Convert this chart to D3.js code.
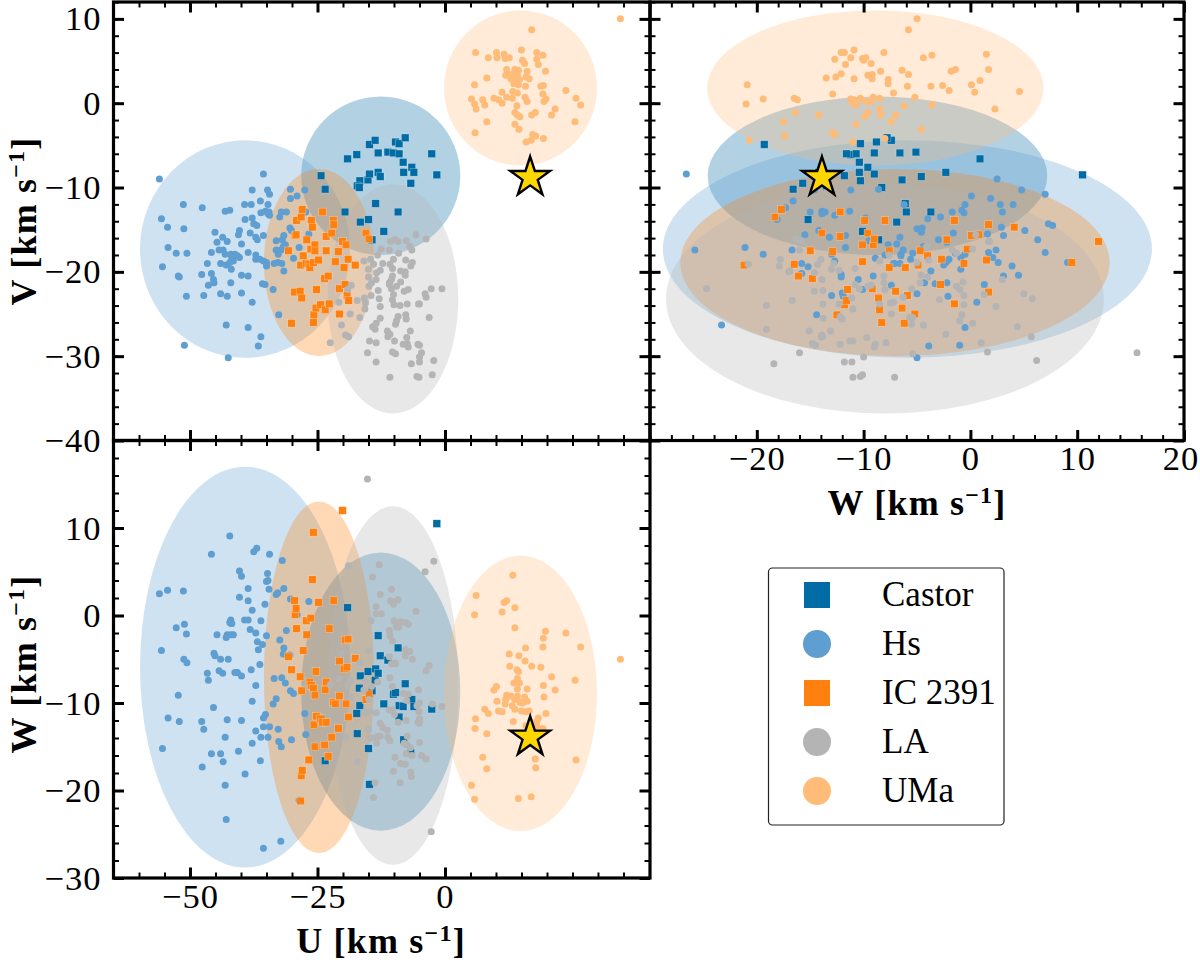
<!DOCTYPE html>
<html>
<head>
<meta charset="utf-8">
<script src="https://cdn.jsdelivr.net/npm/d3@7"></script>
<style>
  html, body { margin: 0; padding: 0; background: #fff; }
  text { font-family: "Liberation Serif", serif; fill: #000; }
</style>
</head>
<body>
<div id="vis"></div>
<script>
// Moving group members, each row is [U, V, W] in km/s
const castor = [
  [-24.3,-8.6,-11.8],[-23.5,-10.2,-16.6],[-19.6,-12.9,-6.0],[-19.1,-6.6,0.9],[-17.3,-6.1,-11.2],
  [-16.6,-14.1,-6.9],[-15.0,-13.8,-15.2],[-14.8,-4.9,-19.3],[-13.7,-4.4,-7.4],[-13.6,-11.9,-6.1],
  [-13.1,-5.9,-6.6],[-15.1,-9.1,-6.4],[-14.8,-8.4,-9.0],[-16.7,-9.2,-10.3],[-17.2,-9.8,-13.5],
  [-16.8,-10.0,-8.3],[-13.1,-8.2,-2.3],[-12.7,-8.7,-4.6],[-14.3,-16.2,-8.6],[-12.0,-15.2,-10.1],
  [-11.2,-5.8,-5.1],[-10.1,-5.9,-9.0],[-9.7,-4.6,-8.8],[-9.0,-4.8,-10.3],[-9.0,-6.0,-11.6],
  [-7.8,-4.1,-7.8],[-9.2,-12.9,-3.7],[-8.2,-7.0,-10.4],[-8.1,-8.2,-14.2],[-6.7,-9.5,-15.7],
  [-6.5,-7.6,-9.6],[-6.1,-8.2,-10.4],[-2.6,-6.0,-10.7],[-1.6,-8.5,10.5]
];
const hs = [
  [-56.0,-9.0,2.5],[-55.6,-13.7,-4.0],[-55.4,-19.4,-15.2],[-54.4,-14.7,2.9],[-54.3,-17.1,-11.7],
  [-52.7,-17.8,-1.4],[-52.3,-20.5,-9.1],[-52.1,-20.6,-12.1],[-51.3,-12.0,2.8],[-51.2,-14.9,-5.0],
  [-51.1,-28.7,-1.0],[-50.7,-22.9,-2.1],[-50.6,-17.8,-5.4],[-47.7,-20.3,-12.1],[-47.6,-12.4,-17.3],
  [-47.3,-22.8,-13.0],[-46.6,-19.0,-6.6],[-46.4,-21.6,-7.4],[-45.8,-17.7,7.0],[-45.8,-20.2,-15.8],
  [-45.4,-20.9,-10.5],[-45.3,-21.3,-4.3],[-45.1,-15.3,-4.6],[-44.7,-16.5,-2.2],[-44.3,-17.4,-6.3],
  [-44.0,-19.0,-15.8],[-44.0,-22.6,-5.0],[-43.6,-15.9,-6.6],[-43.5,-17.4,-16.7],[-43.1,-12.8,-13.9],
  [-42.9,-26.3,-23.3],[-43.1,-17.9,-19.4],[-42.7,-22.9,-11.9],[-42.7,-16.4,-2.2],[-42.9,-19.2,-2.5],
  [-42.5,-30.2,-5.0],[-42.2,-12.7,-0.8],[-42.2,-18.9,9.1],[-42.0,-17.9,-0.5],[-41.9,-19.7,-0.9],
  [-42.0,-21.3,-2.2],[-41.8,-18.3,-0.9],[-41.5,-18.7,-2.2],[-41.2,-17.9,-6.5],[-40.5,-15.6,-15.5],
  [-40.3,-15.1,5.1],[-40.7,-18.1,-6.5],[-40.3,-18.3,2.1],[-39.9,-20.4,4.5],[-39.9,-16.7,-6.9],
  [-39.9,-22.5,-12.0],[-39.3,-12.0,-0.5],[-39.2,-13.8,-18.1],[-38.6,-20.5,3.1],[-38.6,-26.6,-0.5],
  [-38.6,-17.7,1.7],[-38.2,-15.4,-1.6],[-38.0,-12.0,-6.2],[-37.8,-13.6,-9.8],[-37.8,-10.3,-14.6],
  [-37.8,-23.6,0.6],[-37.5,-14.3,7.3],[-36.9,-14.5,7.7],[-37.1,-18.0,-8.0],[-37.1,-15.9,-13.2],
  [-36.8,-16.2,-3.0],[-36.6,-28.8,-3.9],[-36.2,-11.6,-16.6],[-36.1,-27.7,-13.9],[-37.1,-18.5,-2.0],
  [-36.3,-18.5,-5.6],[-35.6,-8.4,-26.6],[-35.6,-15.7,-11.7],[-35.8,-21.4,-3.3],[-35.3,-21.5,1.3],
  [-35.6,-18.7,-12.7],[-36.1,-13.0,-0.6],[-35.2,-12.8,-11.3],[-34.8,-10.3,4.8],[-34.4,-10.8,7.0],
  [-34.7,-12.0,4.0],[-34.5,-12.9,3.0],[-34.4,-13.3,-12.7],[-35.0,-18.9,-2.3],[-35.0,-19.3,3.9],
  [-34.7,-13.1,-13.9],[-33.7,-22.1,-10.1],[-33.5,-19.0,-7.2],[-33.1,-16.3,-9.5],[-32.8,-18.9,2.6],
  [-32.6,-25.1,-14.4],[-33.1,-17.4,2.4],[-32.7,-17.9,-13.0],[-32.4,-13.5,-2.8],[-32.1,-12.9,-15.0],
  [-32.0,-19.0,-7.1],[-31.6,-19.9,-3.7],[-31.1,-12.9,-1.7],[-31.9,-16.2,6.3],[-31.6,-15.7,3.1],
  [-32.2,-17.4,-25.8],[-31.7,-17.0,-4.4],[-31.3,-16.8,-7.7],[-30.3,-10.2,-8.6],[-30.3,-11.3,1.9],
  [-30.4,-14.8,-4.5],[-30.1,-15.1,-14.2],[-29.7,-18.4,-8.9],[-29.0,-11.0,0.1],[-28.6,-17.1,-21.1],
  [-27.5,-10.3,-11.2],[-27.3,-12.9,-13.6],[-26.7,-15.5,1.6]
];
const ic2391 = [
  [-30.7,-17.5,-4.7],[-30.1,-26.1,-6.2],[-29.5,-22.4,1.7],[-29.4,-15.7,0.1],[-29.2,-15.6,0.8],
  [-29.1,-13.9,-1.5],[-28.4,-22.3,-7.0],[-28.3,-19.2,-21.2],[-28.2,-13.5,-18.3],[-28.1,-23.1,-8.6],
  [-28.0,-12.6,-17.7],[-27.8,-18.1,-4.0],[-27.2,-19.0,-0.6],[-27.1,-16.2,-2.2],[-26.7,-19.1,-16.5],
  [-26.5,-19.5,-7.6],[-26.3,-17.3,-0.3],[-26.2,-13.9,-8.0],[-26.0,-14.7,4.1],[-25.8,-18.9,9.5],
  [-25.7,-25.1,-12.5],[-25.8,-26.0,-8.3],[-25.5,-16.8,-9.1],[-25.5,-17.5,-15.0],[-25.3,-24.3,-6.4],
  [-25.2,-22.1,-11.5],[-24.8,-18.6,1.5],[-24.4,-23.9,-11.8],[-24.0,-12.9,-12.2],[-23.5,-24.5,-8.5],
  [-23.3,-15.8,-12.2],[-23.3,-17.5,-7.6],[-23.6,-20.8,-14.8],[-22.9,-20.5,-16.1],[-22.7,-23.8,-1.5],
  [-22.2,-15.4,-13.9],[-21.9,-13.9,-9.9],[-21.8,-14.4,1.7],[-21.5,-18.8,-10.1],[-20.9,-17.6,-12.9],
  [-20.7,-25.0,-5.2],[-20.7,-22.0,-9.2],[-20.1,-16.4,12.0],[-19.8,-19.5,-6.1],[-19.6,-21.5,-2.8],
  [-19.4,-16.8,-10.1],[-19.2,-22.8,-5.9],[-19.0,-18.5,-2.7],[-18.9,-23.4,-11.6],[-17.6,-19.2,-4.9],
  [-15.5,-15.4,-9.6],[-14.9,-16.1,-9.0]
];
const la = [
  [-22.5,-28.4,-7.9],[-20.8,-23.6,-7.2],[-20.3,-26.3,-4.4],[-19.5,-27.5,-13.9],[-18.9,-27.7,5.7],
  [-19.1,-22.1,-8.0],[-18.4,-21.6,-9.3],[-18.6,-25.0,-7.4],[-17.2,-23.4,-16.7],[-16.7,-25.4,-5.4],
  [-15.8,-23.1,-11.1],[-15.6,-23.7,-7.5],[-15.7,-24.4,-11.0],[-15.2,-29.6,15.6],[-15.9,-18.7,-8.5],
  [-15.0,-19.7,-13.0],[-15.0,-20.6,-4.0],[-14.8,-28.2,-11.0],[-14.6,-18.5,-14.0],[-14.5,-22.8,-0.6],
  [-14.4,-21.3,-8.1],[-14.9,-21.7,-9.6],[-14.2,-26.5,4.4],[-14.0,-19.1,-20.8],[-13.7,-26.8,-19.1],
  [-13.5,-26.1,0.2],[-13.5,-20.9,-13.9],[-13.5,-28.4,1.0],[-13.5,-30.7,-11.1],[-13.4,-20.1,-14.6],
  [-13.2,-18.0,-7.6],[-13.1,-22.2,-13.8],[-12.9,-23.2,5.8],[-12.7,-25.5,-13.8],[-12.7,-19.8,-12.3],
  [-12.7,-24.1,2.4],[-12.5,-17.3,0.2],[-12.2,-19.0,-12.8],[-11.3,-27.0,-13.1],[-11.2,-27.7,-13.9],
  [-10.9,-17.4,-1.7],[-10.9,-21.5,-10.8],[-10.9,-21.3,-4.7],[-10.8,-27.4,-2.3],[-10.8,-32.5,-7.1],
  [-10.8,-19.1,-14.3],[-10.7,-16.4,1.7],[-10.5,-22.0,-5.5],[-10.5,-20.9,3.0],[-10.3,-19.6,-10.8],
  [-10.3,-23.3,-2.9],[-10.3,-29.5,1.6],[-10.3,-20.5,-8.1],[-10.1,-22.7,1.3],[-10.1,-18.5,-17.8],
  [-10.0,-23.9,-0.6],[-9.9,-28.2,-11.3],[-9.8,-16.2,-16.2],[-9.7,-29.7,-5.4],[-9.7,-26.2,-5.5],
  [-9.5,-21.7,-1.3],[-9.5,-25.8,-1.0],[-9.2,-25.3,-12.2],[-9.2,-16.4,1.8],[-9.1,-17.8,-1.3],
  [-8.8,-24.0,-19.1],[-8.7,-21.2,-0.7],[-8.7,-19.9,-16.9],[-8.2,-28.6,-8.9],[-8.0,-22.3,-14.6],
  [-7.8,-20.0,-17.0],[-7.8,-20.4,-4.6],[-7.7,-25.1,-0.8],[-7.7,-18.6,-3.9],[-7.6,-25.6,-12.0],
  [-7.6,-16.3,-15.8],[-7.5,-27.8,-9.7],[-7.4,-23.8,-13.8],[-7.4,-28.5,-14.8],[-7.2,-22.1,-1.0],
  [-7.2,-28.9,-9.0],[-6.9,-17.0,-4.1],[-6.8,-27.0,-15.1],[-6.7,-19.3,-17.9],[-6.6,-30.9,-18.4],
  [-6.5,-17.4,-16.0],[-6.4,-18.9,-5.0],[-5.7,-15.6,0.5],[-5.5,-32.4,-10.3],[-5.3,-28.6,-12.2],
  [-5.2,-23.8,-8.5],[-5.1,-32.5,-11.0],[-5.0,-23.8,-12.3],[-5.0,-28.7,-14.5],[-5.0,-30.1,-10.0],
  [-5.0,-30.7,-11.8],[-4.6,-29.6,-16.0],[-3.9,-22.6,5.0],[-3.7,-23.0,-6.3],[-3.7,-16.1,-16.4],
  [-3.1,-25.4,-5.7],[-2.7,-22.0,-24.7],[-2.5,-32.2,-10.1],[-2.2,-30.5,6.2],[-0.6,-22.0,-10.4]
];
const uma = [
  [34.4,10.0,-5.0],[5.2,0.5,-19.4],[5.8,2.2,0.1],[5.8,-0.1,-21.0],[5.9,-3.5,-12.9],
  [6.0,6.0,-11.8],[6.1,-0.7,2.3],[7.4,0.4,-16.2],[7.8,-0.2,-10.7],[8.2,3.0,-13.5],
  [8.2,-2.2,-17.5],[8.5,5.4,-11.2],[9.6,0.6,-8.5],[10.1,6.0,-8.1],[10.2,5.4,-9.8],
  [10.5,0.4,-10.9],[11.2,1.3,0.4],[11.2,0.0,-11.0],[11.6,5.8,1.5],[11.8,5.3,-10.1],
  [11.9,3.3,-9.6],[12.1,4.0,1.7],[12.1,0.7,-9.1],[12.6,5.4,-4.4],[12.7,3.4,-5.8],
  [12.9,2.9,-9.2],[13.2,0.6,-10.3],[13.3,1.4,4.6],[13.4,3.5,-12.1],[13.5,2.3,-7.7],
  [13.7,4.0,-1.4],[13.7,2.7,0.9],[13.7,-1.1,-9.6],[13.7,-2.5,-10.7],[14.1,-0.3,-6.2],
  [14.2,3.4,-9.2],[14.2,1.2,-7.2],[14.2,-1.4,-8.4],[14.4,3.9,-6.4],[14.4,2.2,-20.9],
  [14.5,-3.1,-4.6],[14.6,2.8,-7.7],[14.7,-1.6,-9.9],[15.0,6.3,-10.9],[15.2,5.1,-10.0],
  [15.6,4.7,-9.3],[15.7,0.7,-5.2],[15.8,2.0,-3.7],[15.9,3.1,-12.6],[15.9,-4.6,-11.0],
  [16.1,3.8,-8.4],[16.1,0.2,-9.8],[16.5,2.9,-10.9],[16.9,-4.4,-20.7],[17.0,8.7,-5.8],
  [17.0,-1.4,-14.2],[17.2,-3.7,-12.7],[17.7,-1.1,-16.4],[17.8,-3.9,-17.4],[18.0,6.0,-12.1],
  [18.0,5.2,-12.7],[18.3,4.6,-11.7],[18.8,2.0,-5.9],[19.2,1.1,-12.9],[19.2,5.7,-3.6],
  [19.3,2.1,-2.6],[19.3,-4.2,-8.0],[19.4,0.2,-9.3],[19.7,3.8,-1.8],[19.8,0.5,-11.2],
  [20.9,-1.4,-7.0],[21.6,-0.7,-8.5],[23.7,1.5,-2.0],[25.5,-2.2,-7.4],[25.7,0.6,-16.5],
  [26.6,-0.2,-3.6]
];
const star = [16.7, -8.8, -13.9];

const groupNames = ["Castor", "Hs", "IC 2391", "LA", "UMa"];
const groupPoints = [castor, hs, ic2391, la, uma];
const groupColors = ["#006BA4", "#5F9ED1", "#FF800E", "#B4B4B4", "#FFBC79"];
const groupShapes = ["square", "circle", "square", "circle", "circle"];
// ellipse centres and half widths for U, V, W
const groupCenters = [[-12.6,-8.6,-8.7],[-39.2,-17.3,-5.9],[-24.7,-18.9,-7.06],[-10.2,-23.2,-8.0],[14.8,1.8,-8.9]];
const groupRadii = [[15.6,9.4,15.9],[20.6,12.9,22.9],[10.8,11.1,20.1],[12.8,13.6,20.5],[15.0,9.2,15.75]];

const WIDTH = 1200;
const HEIGHT = 962;
const LEFT = 113.5, MID_X = 650, RIGHT = 1184;
const TOP = 2, MID_Y = 440.5, BOTTOM = 878;

const xU = d3.scaleLinear().domain([-65, 40.2]).range([LEFT, MID_X]);
const yV = d3.scaleLinear().domain([-40, 12]).range([MID_Y, TOP]);
const xW = d3.scaleLinear().domain([-30, 20]).range([MID_X, RIGHT]);
const yW = d3.scaleLinear().domain([-30, 20]).range([BOTTOM, MID_Y]);

const uMajor = [-50, -25, 0];
const uMinor = d3.range(-60, 40, 5);
const vMajor = [10, 0, -10, -20, -30, -40];
const wMajorX = [-20, -10, 0, 10, 20];
const wMajorY = [10, 0, -10, -20, -30];
const minor2 = (lo, hi) => d3.range(lo, hi + 0.1, 2);

const svg = d3.select("#vis").append("svg")
  .attr("width", WIDTH)
  .attr("height", HEIGHT)
  .style("display", "block");

// the three panels, a and b are the columns of the rows above
const panels = [
  {x: xU, y: yV, a: 0, b: 1, xMajor: uMajor, xMinor: uMinor, yMajor: vMajor, yMinor: minor2(-40, 12), xLabels: false, yLabels: true, id: "uv"},
  {x: xW, y: yV, a: 2, b: 1, xMajor: wMajorX, xMinor: minor2(-30, 20), yMajor: vMajor, yMinor: minor2(-40, 12), xLabels: true, yLabels: false, id: "wv"},
  {x: xU, y: yW, a: 0, b: 2, xMajor: uMajor, xMinor: uMinor, yMajor: wMajorY, yMinor: minor2(-30, 20), xLabels: true, yLabels: true, id: "uw"}
];

panels.forEach(p => {
  const [x0, x1] = p.x.range();
  const [y0, y1] = p.y.range();
  const g = svg.append("g");

  svg.append("defs").append("clipPath").attr("id", "clip-" + p.id)
    .append("rect").attr("x", x0).attr("y", y1).attr("width", x1 - x0).attr("height", y0 - y1);

  const inner = g.append("g").attr("clip-path", "url(#clip-" + p.id + ")");

  // shaded ellipses first
  groupNames.forEach((name, i) => {
    inner.append("ellipse")
      .attr("cx", p.x(groupCenters[i][p.a]))
      .attr("cy", p.y(groupCenters[i][p.b]))
      .attr("rx", Math.abs(p.x(groupCenters[i][p.a] + groupRadii[i][p.a]) - p.x(groupCenters[i][p.a])))
      .attr("ry", Math.abs(p.y(groupCenters[i][p.b] + groupRadii[i][p.b]) - p.y(groupCenters[i][p.b])))
      .attr("fill", groupColors[i])
      .attr("fill-opacity", 0.3);
  });

  // then the stars of each group
  groupNames.forEach((name, i) => {
    if (groupShapes[i] == "square") {
      inner.selectAll(null).data(groupPoints[i]).enter().append("rect")
        .attr("x", d => p.x(d[p.a]) - 3.8)
        .attr("y", d => p.y(d[p.b]) - 3.8)
        .attr("width", 7.6)
        .attr("height", 7.6)
        .attr("fill", groupColors[i])
        .attr("stroke", "#fff")
        .attr("stroke-opacity", 0.5)
        .attr("stroke-width", 0.5);
    } else {
      inner.selectAll(null).data(groupPoints[i]).enter().append("circle")
        .attr("cx", d => p.x(d[p.a]))
        .attr("cy", d => p.y(d[p.b]))
        .attr("r", 3.5)
        .attr("fill", groupColors[i]);
    }
  });

  inner.append("path")
    .attr("d", d3.symbol(d3.symbolStar, 490))
    .attr("transform", "translate(" + p.x(star[p.a]) + "," + p.y(star[p.b]) + ")")
    .attr("fill", "#FFD700")
    .attr("stroke", "#000")
    .attr("stroke-width", 2.4)
    .attr("stroke-linejoin", "miter");

  // ticks point inwards on all four sides
  const drawAxis = (maker, scale, at, values, size, labels, padding) => {
    const axis = maker(scale).tickValues(values).tickSize(-size).tickPadding(padding);
    axis.tickFormat(labels ? d => String(d).replace("-", "\u2212") : "");
    const a = g.append("g").attr("transform", at).call(axis);
    a.select(".domain").remove();
    a.selectAll("line").attr("stroke", "#000").attr("stroke-width", size > 6 ? 3 : 2);
    a.selectAll("text").style("font-size", "34.5px").style("letter-spacing", "1px").attr("fill", "#000");
    return a;
  };
  drawAxis(d3.axisBottom, p.x, "translate(0," + y0 + ")", p.xMinor, 5.5, false, 6);
  drawAxis(d3.axisTop, p.x, "translate(0," + y1 + ")", p.xMinor, 5.5, false, 6);
  drawAxis(d3.axisLeft, p.y, "translate(" + x0 + ",0)", p.yMinor, 5.5, false, 6);
  drawAxis(d3.axisRight, p.y, "translate(" + x1 + ",0)", p.yMinor, 5.5, false, 6);
  const bottomAxis = drawAxis(d3.axisBottom, p.x, "translate(0," + y0 + ")", p.xMajor, 10.5, p.xLabels, 5);
  drawAxis(d3.axisTop, p.x, "translate(0," + y1 + ")", p.xMajor, 10.5, false, 6);
  drawAxis(d3.axisLeft, p.y, "translate(" + x0 + ",0)", p.yMajor, 10.5, p.yLabels, 12);
  drawAxis(d3.axisRight, p.y, "translate(" + x1 + ",0)", p.yMajor, 10.5, false, 6);

  // the 20 at the far right sits on the page edge, pull it in a little
  bottomAxis.selectAll("text").filter(d => d == 20).attr("dx", -3.5);

  g.append("rect")
    .attr("x", x0).attr("y", y1)
    .attr("width", x1 - x0).attr("height", y0 - y1)
    .attr("fill", "none").attr("stroke", "#000").attr("stroke-width", 3.2);
});

// axis titles with a raised -1
function axisTitle(letter, px, py, rotate) {
  const t = svg.append("text")
    .attr("text-anchor", "middle")
    .attr("transform", "translate(" + px + "," + py + ")" + (rotate ? " rotate(-90)" : ""))
    .style("font-size", "36px")
    .style("font-weight", "bold")
    .style("letter-spacing", "1.2px");
  t.append("tspan").text(letter + " [km s");
  t.append("tspan").attr("dy", -12).style("font-size", "24px").text("\u22121");
  t.append("tspan").attr("dy", 12).text("]");
}
axisTitle("V", 36, 221, true);
axisTitle("W", 36, 664, true);
axisTitle("W", 917, 515, false);
axisTitle("U", 381, 953, false);

// legend
const legendX = 768.5, legendY = 568, legendW = 235.5, legendH = 257;
svg.append("rect")
  .attr("x", legendX).attr("y", legendY)
  .attr("width", legendW).attr("height", legendH)
  .attr("rx", 4)
  .attr("fill", "#fff").attr("stroke", "#222").attr("stroke-width", 1.2);

const legendRow = d3.scalePoint().domain(groupNames).range([595, 791]);
groupNames.forEach((name, i) => {
  const ly = legendRow(name);
  if (groupShapes[i] == "square") {
    svg.append("rect").attr("x", 804).attr("y", ly - 13).attr("width", 26).attr("height", 26).attr("fill", groupColors[i]);
  } else {
    svg.append("circle").attr("cx", 817).attr("cy", ly).attr("r", 14).attr("fill", groupColors[i]);
  }
  svg.append("text").attr("x", 882).attr("y", ly + 11).style("font-size", "35px").text(name);
});
</script>
</body>
</html>
